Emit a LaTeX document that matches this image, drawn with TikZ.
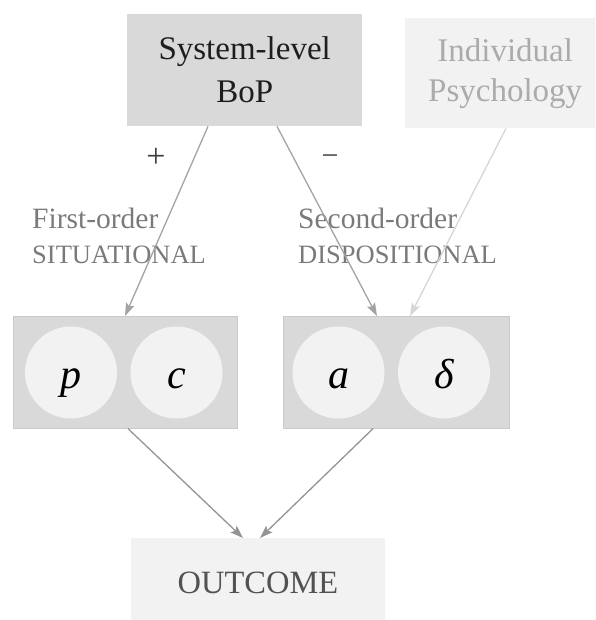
\documentclass[tikz,border=0pt]{standalone}
\usepackage{fontspec}
\setmainfont{Liberation Serif}
\usetikzlibrary{arrows.meta}
\definecolor{boxdark}{HTML}{D9D9D9}
\definecolor{boxlight}{HTML}{F2F2F2}
\definecolor{inkdark}{HTML}{1E1E1E}
\definecolor{inkmid}{HTML}{7A7A7A}
\definecolor{inkpale}{HTML}{ABABAB}
\definecolor{linkgray}{HTML}{A3A3A3}
\definecolor{linkpale}{HTML}{D6D6D6}
\tikzset{
  panel/.style={rectangle, inner sep=0pt, anchor=north west},
  darkpanel/.style={panel, fill=boxdark},
  lightpanel/.style={panel, fill=boxlight},
  grouppanel/.style={panel, fill=boxdark, draw=boxdark!93!black, line width=0.6pt},
  varcircle/.style={circle, fill=boxlight, inner sep=0pt, minimum size=92pt},
  varname/.style={anchor=base, inner sep=0pt, font=\fontsize{42}{42}\selectfont\itshape, text=black},
  sidelabel/.style={anchor=base west, inner sep=0pt, text=inkmid},
  link/.style={draw=linkgray, line width=1.3pt, -{Stealth[length=13pt,width=9pt,inset=2.5pt]}},
  palelink/.style={link, draw=linkpale},
}
\begin{document}
\begin{tikzpicture}[x=1pt, y=-1pt]
  \useasboundingbox (0,0) rectangle (595,620);
  \clip (0,0) rectangle (595,620);

  % top sources
  \node[darkpanel, minimum width=235pt, minimum height=112pt] (bop) at (127,14) {};
  \node[align=center, text=inkdark, font=\fontsize{33}{43}\selectfont] (boptext) at (bop.center) {System-level\\BoP};

  \node[lightpanel, minimum width=200pt, minimum height=110pt] (psych) at (405,18) {};
  \node[align=center, text=inkpale, font=\fontsize{33}{40}\selectfont] (psychtext) at (psych.center) {Individual\\Psychology};

  % sign marks
  \node[text=inkdark!85, font=\fontsize{34}{34}\selectfont] (plus) at (156,158) {+};
  \node[text=inkdark!85, font=\fontsize{30}{30}\selectfont] (minus) at (330,160) {−};

  % path labels
  \node[sidelabel, font=\fontsize{29.5}{30}\selectfont] (fo) at (32,228) {First-order};
  \node[sidelabel, font=\fontsize{26.5}{27}\selectfont] (sit) at (32,263) {SITUATIONAL};
  \node[sidelabel, font=\fontsize{29.5}{30}\selectfont] (so) at (298,228) {Second-order};
  \node[sidelabel, font=\fontsize{26.5}{27}\selectfont] (disp) at (298,263) {DISPOSITIONAL};

  % variable groups
  \node[grouppanel, minimum width=224pt, minimum height=112pt] (left) at (13,316) {};
  \node[grouppanel, minimum width=226pt, minimum height=112pt] (right) at (283,316) {};

  \node[varcircle] (pc) at (71,372.5) {};
  \node[varcircle] (cc) at (176.5,372.5) {};
  \node[varcircle] (ac) at (338.5,372.5) {};
  \node[varcircle] (dc) at (444,372.5) {};
  \node[varname] (pv) at (71,388) {p};
  \node[varname] (cv) at (176.5,388) {c};
  \node[varname] (av) at (338.5,388) {a};
  \node[varname] (dv) at (444,388) {δ};

  % outcome
  \node[lightpanel, minimum width=254pt, minimum height=90pt] (out) at (131,538) {};
  \node[text=black!68, font=\fontsize{32.5}{33}\selectfont, anchor=base] (outtext) at (258,593) {OUTCOME};

  % connectors
  \draw[link] ([xshift=81pt]bop.south west) -- ([xshift=112pt]left.north west);
  \draw[link] ([xshift=150pt]bop.south west) -- ([xshift=94pt]right.north west);
  \draw[palelink] ([xshift=101pt]psych.south west) -- ([xshift=127pt]right.north west);
  \draw[link, draw=black!42] ([xshift=115pt]left.south west) -- ([xshift=112pt]out.north west);
  \draw[link, draw=black!42] ([xshift=90pt]right.south west) -- ([xshift=129pt]out.north west);
\end{tikzpicture}
\end{document}
